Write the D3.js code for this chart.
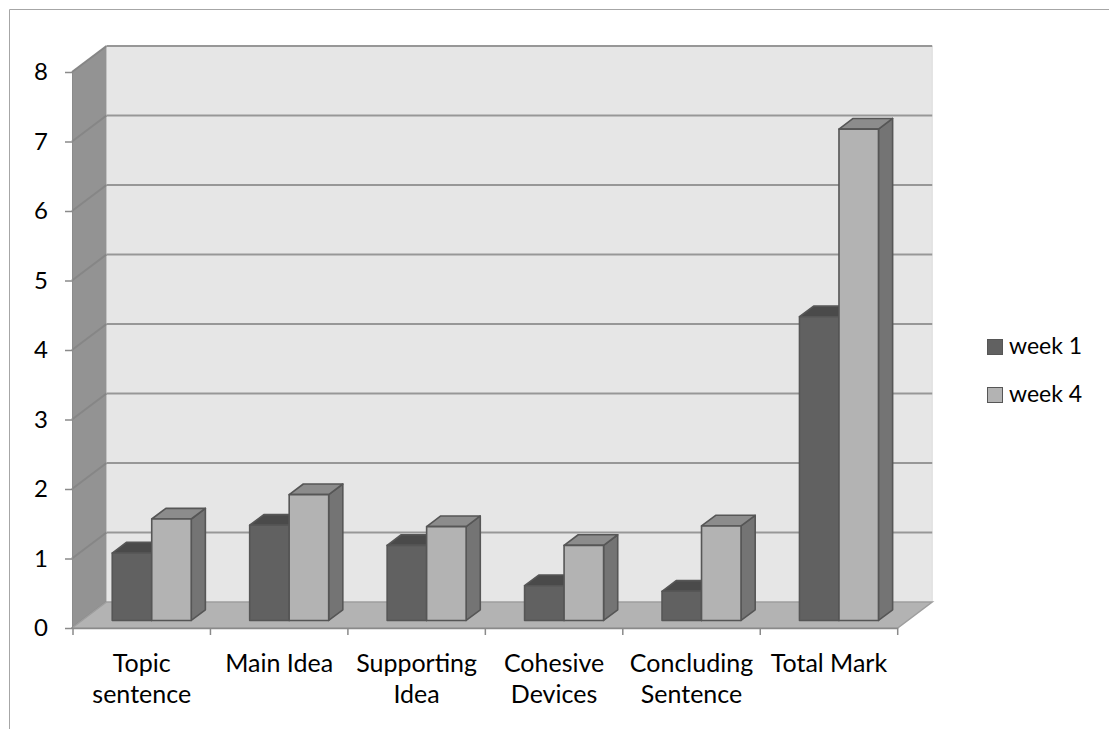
<!DOCTYPE html>
<html>
<head>
<meta charset="utf-8">
<script src="https://cdn.jsdelivr.net/npm/d3@7"></script>
<style>
  html, body { margin: 0; padding: 0; background: #fff; }
  svg { display: block; }
  text { font-family: Lato, "Open Sans", sans-serif; fill: #000; }
</style>
</head>
<body>
<svg id="chart" width="1109" height="729"></svg>
<script>
// Average scores per writing component
const categories = ["Topic sentence", "Main Idea", "Supporting Idea", "Cohesive Devices", "Concluding Sentence", "Total Mark"];
const seriesNames = ["week 1", "week 4"];
const week1 = [0.97, 1.37, 1.08, 0.5, 0.42, 4.37];
const week4 = [1.46, 1.81, 1.35, 1.08, 1.36, 7.07];
const yTicks = [0, 1, 2, 3, 4, 5, 6, 7, 8];

const svg = d3.select("#chart");

// Front plane scales
const x = d3.scaleBand().domain(categories).range([73, 897.7]).padding(0);
const y = d3.scaleLinear().domain([0, 8]).range([628, 72]);
// Depth: 0 = front plane, 1 = back wall
const dz = d3.scaleLinear().domain([0, 1]).range([0, 1]);
const DX = 34.5, DY = -26;
const ox = z => dz(z) * DX;
const oy = z => dz(z) * DY;

const x0 = x.range()[0] - 1, x1 = x.range()[1];
const yTop = y(8), yBot = y(0);

// Chart frame
svg.append("path")
  .attr("d", `M9.5,729 V9.5 H1109`)
  .attr("fill", "none").attr("stroke", "#a6a6a6").attr("stroke-width", 1);

// Back wall
svg.append("rect")
  .attr("x", x0 + ox(1)).attr("y", yTop + oy(1))
  .attr("width", x1 - x0).attr("height", yBot - yTop)
  .attr("fill", "#e6e6e6");
svg.append("line")
  .attr("x1", x1 + ox(1)).attr("x2", x1 + ox(1))
  .attr("y1", yTop + oy(1)).attr("y2", yBot + oy(1))
  .attr("stroke", "#dadada").attr("stroke-width", 1);

// Side wall
svg.append("path")
  .attr("d", `M${x0},${yBot} V${yTop} L${x0 + ox(1)},${yTop + oy(1)} V${yBot + oy(1)} Z`)
  .attr("fill", "#939393");

// Gridlines on side and back walls
const grid = svg.append("g");
yTicks.forEach(v => {
  grid.append("path")
    .attr("d", `M${x0},${y(v)} L${x0 + ox(1)},${y(v) + oy(1)}`)
    .attr("stroke", "#868686").attr("stroke-width", 2).attr("fill", "none");
  if (v > 0) {
    grid.append("line")
      .attr("x1", x0 + ox(1)).attr("x2", x1 + ox(1))
      .attr("y1", y(v) + oy(1)).attr("y2", y(v) + oy(1))
      .attr("stroke", "#979797").attr("stroke-width", 2);
  }
});

// Floor
svg.append("path")
  .attr("d", `M${x0},${yBot} H${x1} L${x1 + ox(1)},${yBot + oy(1)} H${x0 + ox(1)} Z`)
  .attr("fill", "#b3b3b3").attr("stroke", "#9e9e9e").attr("stroke-width", 1.5);

// Bars
const zFront = 0.29, zBack = 0.70;
const barW = 39.5;
const styles = [
  { front: "#616161", top: "#4a4a4a", side: "#4f4f4f" },
  { front: "#b3b3b3", top: "#8c8c8c", side: "#747474" }
];
const series = [week1, week4];
const bars = svg.append("g");
categories.forEach((c, i) => {
  const left = x(c) + x.bandwidth() / 2 - barW;
  series.forEach((vals, s) => {
    const v = vals[i];
    const bx = left + s * barW + ox(zFront);
    const by0 = y(0) + oy(zFront);
    const by1 = y(v) + oy(zFront);
    const ddx = ox(zBack) - ox(zFront), ddy = oy(zBack) - oy(zFront);
    const st = styles[s];
    const g = bars.append("g")
      .attr("stroke", "#565656").attr("stroke-width", 1.6).attr("stroke-linejoin", "round");
    // right side
    g.append("path")
      .attr("d", `M${bx + barW},${by0} V${by1} L${bx + barW + ddx},${by1 + ddy} V${by0 + ddy} Z`)
      .attr("fill", st.side);
    // top
    g.append("path")
      .attr("d", `M${bx},${by1} H${bx + barW} L${bx + barW + ddx},${by1 + ddy} H${bx + ddx} Z`)
      .attr("fill", st.top);
    // front
    g.append("rect")
      .attr("x", bx).attr("y", by1).attr("width", barW).attr("height", by0 - by1)
      .attr("fill", st.front);
  });
});

// Value axis
const yAxis = svg.append("g")
  .attr("transform", `translate(${x0},0)`)
  .call(d3.axisLeft(y).tickValues(yTicks).tickSize(7).tickPadding(17).tickFormat(d3.format("d")));
yAxis.select(".domain").attr("stroke", "#8a8a8a").attr("stroke-width", 1);
yAxis.selectAll(".tick line").attr("stroke", "#8a8a8a").attr("stroke-width", 1.5);
yAxis.selectAll(".tick text").style("font-size", "24px").attr("fill", "#000");

// Category axis
const edges = categories.map(c => x(c)).concat([x1]);
const cat = svg.append("g");
cat.append("line")
  .attr("x1", x0).attr("x2", x1).attr("y1", yBot + 0.5).attr("y2", yBot + 0.5)
  .attr("stroke", "#8a8a8a").attr("stroke-width", 1.5);
cat.selectAll("line.tick").data(edges).join("line")
  .attr("class", "tick")
  .attr("x1", d => d).attr("x2", d => d)
  .attr("y1", yBot).attr("y2", yBot + 7)
  .attr("stroke", "#8a8a8a").attr("stroke-width", 1.5);

const labels = cat.selectAll("text.cat").data(categories).join("text")
  .attr("class", "cat")
  .attr("text-anchor", "middle")
  .style("font-size", "25px");
labels.each(function (d) {
  const t = d3.select(this);
  const cx = x(d) + x.bandwidth() / 2;
  t.text(d);
  let lines = [d];
  if (this.getComputedTextLength() > x.bandwidth() - 10) {
    const k = d.lastIndexOf(" ");
    lines = [d.slice(0, k), d.slice(k + 1)];
  }
  t.text(null);
  lines.forEach((ln, j) => {
    t.append("tspan").attr("x", cx).attr("y", 672 + j * 31).text(ln);
  });
});

// Legend
const legend = svg.append("g");
seriesNames.forEach((n, s) => {
  legend.append("rect")
    .attr("x", 987.5).attr("y", 339.5 + s * 48).attr("width", 15).attr("height", 15)
    .attr("fill", styles[s].front).attr("stroke", "#565656").attr("stroke-width", 1);
  legend.append("text")
    .attr("x", 1009).attr("y", 354 + s * 48)
    .style("font-size", "23px").text(n);
});
</script>
</body>
</html>
